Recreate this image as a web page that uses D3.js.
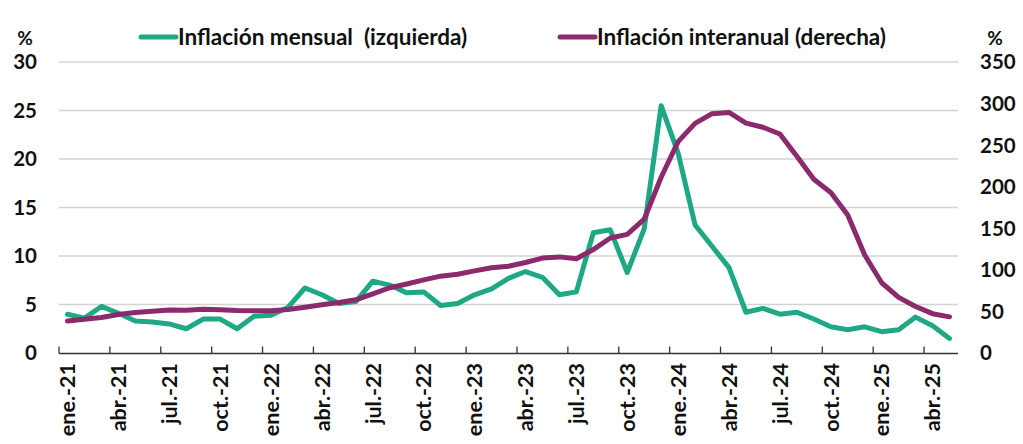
<!DOCTYPE html>
<html>
<head>
<meta charset="utf-8">
<script src="https://cdn.jsdelivr.net/npm/d3@7"></script>
<style>
  body { margin: 0; background: #fff; }
  svg text { font-family: Lato, "Open Sans", sans-serif; font-weight: bold; fill: #111; }
</style>
</head>
<body>
<div id="chart"></div>
<script>
// months, ene.-21 to may.-25
var monthNames = ["ene.", "feb.", "mar.", "abr.", "may.", "jun.", "jul.", "ago.", "sep.", "oct.", "nov.", "dic."];
var months = [];
for (var yr = 21; yr <= 25; yr++) {
	for (var m = 0; m < 12; m++) {
		if (yr == 25 && m > 4) break;
		months.push(monthNames[m] + "-" + yr);
	}
}

// monthly inflation (left axis)
var mensual = [
	4.0, 3.6, 4.8, 4.1, 3.3, 3.2, 3.0, 2.5, 3.5, 3.5, 2.5, 3.8,
	3.9, 4.7, 6.7, 6.0, 5.1, 5.3, 7.4, 7.0, 6.2, 6.3, 4.9, 5.1,
	6.0, 6.6, 7.7, 8.4, 7.8, 6.0, 6.3, 12.4, 12.7, 8.3, 12.8, 25.5,
	20.6, 13.2, 11.0, 8.8, 4.2, 4.6, 4.0, 4.2, 3.5, 2.7, 2.4, 2.7,
	2.2, 2.4, 3.7, 2.8, 1.5
];

// year-on-year inflation (right axis)
var interanual = [
	38.5, 40.7, 42.6, 46.3, 48.8, 50.2, 51.8, 51.4, 52.5, 52.1, 51.2, 50.9,
	50.7, 52.3, 55.1, 58.0, 60.7, 64.0, 71.0, 78.5, 83.0, 88.0, 92.4, 94.8,
	98.8, 102.5, 104.3, 108.8, 114.2, 115.6, 113.4, 124.4, 138.3, 142.7, 160.9, 211.4,
	254.2, 276.2, 287.9, 289.4, 276.4, 271.5, 263.4, 236.7, 209.0, 193.0, 166.0, 117.8,
	84.5, 66.9, 55.9, 47.3, 43.5
];

var leftTicks = [0, 5, 10, 15, 20, 25, 30];
var rightTicks = [0, 50, 100, 150, 200, 250, 300, 350];
var legendLabels = ["Inflación mensual  (izquierda)", "Inflación interanual (derecha)"];

function init() {
	var w = 1023, h = 444;
	var left = 59, right = 958, top = 62, bottom = 353;
	var green = "#1ea884", purple = "#8b2a6c";

	var svg = d3.select("#chart").append("svg")
		.attr("width", w)
		.attr("height", h);

	var xScale = d3.scaleBand()
		.domain(months)
		.range([left, right])
		.padding(0);

	var yLeft = d3.scaleLinear().domain([0, 30]).range([bottom, top]);
	var yRight = d3.scaleLinear().domain([0, 350]).range([bottom, top]);

	// gridlines
	svg.append("g").selectAll("line")
		.data(leftTicks.slice(1))
		.enter().append("line")
		.attr("x1", left).attr("x2", right)
		.attr("y1", d => yLeft(d)).attr("y2", d => yLeft(d))
		.attr("stroke", "#d3d3d3")
		.attr("stroke-width", 1.3);

	// left axis labels
	svg.append("g").selectAll("text")
		.data(leftTicks)
		.enter().append("text")
		.attr("x", 37)
		.attr("y", d => yLeft(d))
		.attr("dy", "0.36em")
		.attr("text-anchor", "end")
		.style("font-size", "20.5px")
		.text(d => d);

	svg.append("text")
		.attr("x", 25).attr("y", 45)
		.attr("text-anchor", "middle")
		.style("font-size", "19px")
		.text("%");

	// right axis labels
	svg.append("g").selectAll("text")
		.data(rightTicks)
		.enter().append("text")
		.attr("x", 980)
		.attr("y", d => yRight(d))
		.attr("dy", "0.36em")
		.attr("text-anchor", "start")
		.style("font-size", "20.5px")
		.text(d => d);

	svg.append("text")
		.attr("x", 995).attr("y", 45)
		.attr("text-anchor", "middle")
		.style("font-size", "19px")
		.text("%");

	// x axis line + ticks between categories, every 3 months
	svg.append("line")
		.attr("x1", left).attr("x2", right)
		.attr("y1", bottom + 0.5).attr("y2", bottom + 0.5)
		.attr("stroke", "#333").attr("stroke-width", 1.3);

	var tickIdx = d3.range(0, months.length, 3);
	svg.append("g").selectAll("line")
		.data(tickIdx)
		.enter().append("line")
		.attr("x1", i => xScale(months[i])).attr("x2", i => xScale(months[i]))
		.attr("y1", bottom - 6.5).attr("y2", bottom + 0.5)
		.attr("stroke", "#333").attr("stroke-width", 1.3);

	svg.append("g").selectAll("text")
		.data(tickIdx)
		.enter().append("text")
		.attr("transform", i => "translate(" + (xScale(months[i]) + xScale.bandwidth() / 2) + "," + 363 + ") rotate(-90)")
		.attr("dy", "0.36em")
		.attr("text-anchor", "end")
		.style("font-size", "21.5px")
		.text(i => months[i]);

	// lines
	var cx = (d, i) => xScale(months[i]) + xScale.bandwidth() / 2;

	var lineL = d3.line().x(cx).y(d => yLeft(d));
	var lineR = d3.line().x(cx).y(d => yRight(d));

	svg.append("path")
		.datum(mensual)
		.attr("d", lineL)
		.attr("fill", "none")
		.attr("stroke", green)
		.attr("stroke-width", 5)
		.attr("stroke-linejoin", "round")
		.attr("stroke-linecap", "round");

	svg.append("path")
		.datum(interanual)
		.attr("d", lineR)
		.attr("fill", "none")
		.attr("stroke", purple)
		.attr("stroke-width", 5)
		.attr("stroke-linejoin", "round")
		.attr("stroke-linecap", "round");

	// legend
	var legend = [
		{label: legendLabels[0], color: green, x: 141},
		{label: legendLabels[1], color: purple, x: 560}
	];
	var lg = svg.append("g").selectAll("g")
		.data(legend)
		.enter().append("g")
		.attr("transform", d => "translate(" + d.x + ",37)");
	lg.append("line")
		.attr("x1", 0).attr("x2", 35)
		.attr("stroke", d => d.color)
		.attr("stroke-width", 5)
		.attr("stroke-linecap", "round");
	lg.append("text")
		.attr("x", 37)
		.attr("dy", "0.36em")
		.style("font-size", "22.5px")
		.style("white-space", "pre")
		.text(d => d.label);
}

window.onload = init;
</script>
</body>
</html>
